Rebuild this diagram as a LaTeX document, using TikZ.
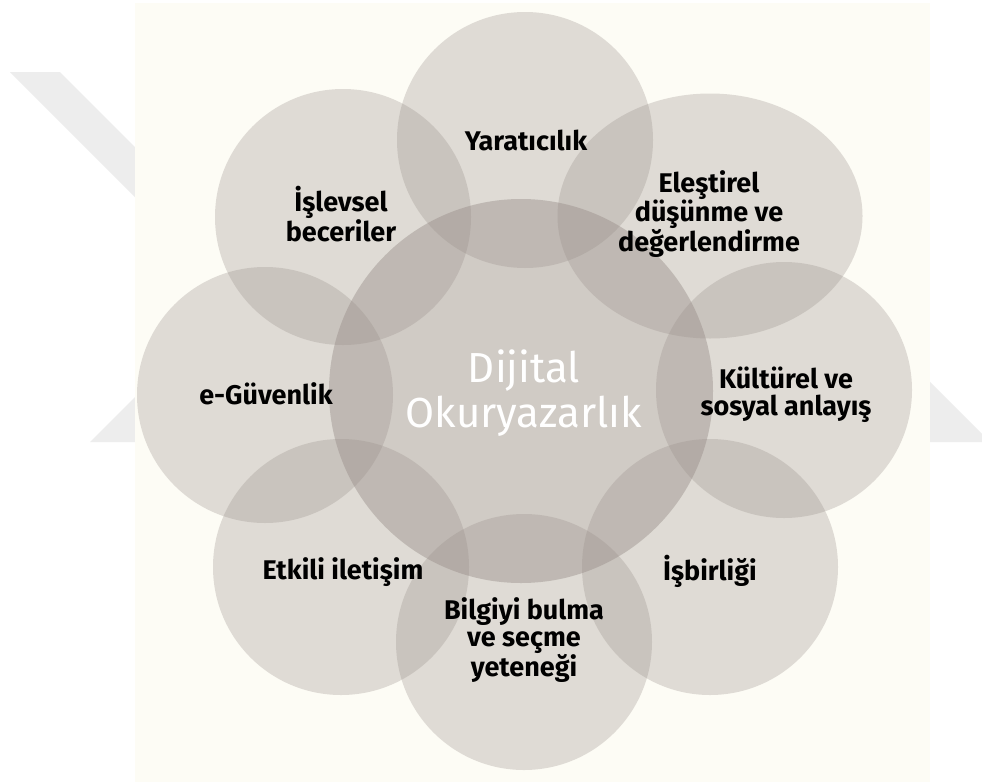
\documentclass[tikz,border=0pt]{standalone}
\usepackage{fontspec}
\setmainfont{Fira Sans}
\usetikzlibrary{shapes}

\definecolor{paperbeige}{RGB}{253,252,245}
\definecolor{markgray}{RGB}{237,237,237}
\definecolor{discgray}{RGB}{150,140,135}

\tikzset{
	node_disc/.style = {
		circle,
		inner sep=0pt,
		fill=discgray,
		fill opacity=0.29,
		minimum size=256
	},
	node_disc_wide/.style = {
		node_disc,
		ellipse,
		minimum width=305,
		minimum height=245
	},
	node_core/.style = {
		node_disc,
		fill opacity=0.43,
		minimum size=384
	},
	node_skill/.style = {
		align=center,
		inner sep=0pt,
		text=black,
		font=\bfseries\fontsize{27}{27}\selectfont
	},
	node_core_text/.style = {
		align=center,
		inner sep=0pt,
		text=white,
		font=\fontsize{42}{45}\selectfont
	}
}

\begin{document}
\begin{tikzpicture}[x=1pt,y=-1pt]
\useasboundingbox (0,0) rectangle (982,782);
\fill[white] (0,0) rectangle (982,782);
% faint watermark behind the figure
\fill[markgray] (10,72) -- (60,72) -- (250,262) -- (200,262) -- cycle;
\fill[markgray] (90,442) -- (200,332) -- (880,332) -- (990,442) -- cycle;
\fill[paperbeige] (135,3) rectangle (930,782);

% discs
\node [node_core] (core) at (521,391) {};
\node [node_disc] (yar) at (525,140) {};
\node [node_disc_wide] (ele) at (710,216) {};
\node [node_disc] (kul) at (784,390) {};
\node [node_disc] (isb) at (710,567) {};
\node [node_disc] (bil) at (524,642) {};
\node [node_disc] (etk) at (341,567) {};
\node [node_disc] (egu) at (265,395) {};
\node [node_disc] (isl) at (343,217) {};

% labels
\node [node_core_text] (core_t) at (524,393) {Dijital\\Okuryazarlık};
\node [node_skill] (yar_t) at (526,140) {Yaratıcılık};
\node [node_skill] (ele_t) at (709,214) {Eleştirel\\düşünme ve\\değerlendirme};
\node [node_skill] (kul_t) at (786,395) {Kültürel ve\\sosyal anlayış};
\node [node_skill] (isb_t) at (710,571) {İşbirliği};
\node [node_skill] (bil_t) at (524,640) {Bilgiyi bulma\\ve seçme\\yeteneği};
\node [node_skill] (etk_t) at (343,572) {Etkili iletişim};
\node [node_skill] (egu_t) at (266,394) {e-Güvenlik};
\node [node_skill] (isl_t) at (341,214) {İşlevsel\\beceriler};
\end{tikzpicture}
\end{document}
